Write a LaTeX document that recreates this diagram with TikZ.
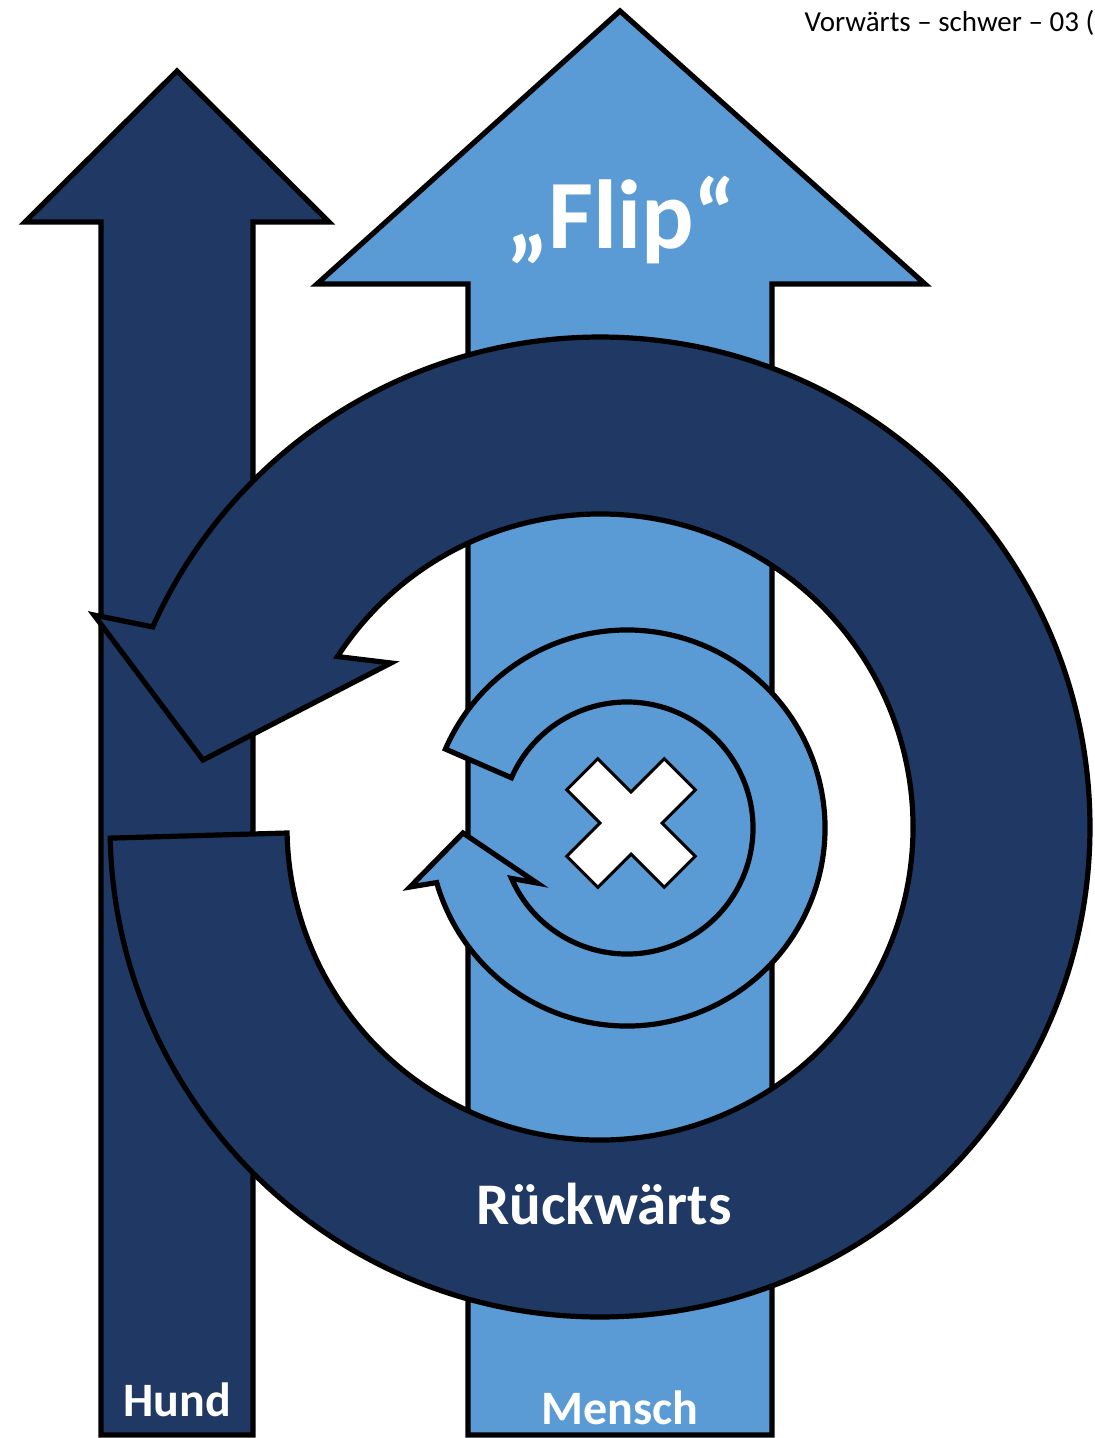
\documentclass[tikz,border=0pt]{standalone}
\usepackage{fontspec}
\setmainfont{Carlito}
\usetikzlibrary{calc}
\definecolor{hundblue}{HTML}{1F3864}
\definecolor{menschblue}{HTML}{5B9BD5}
\begin{document}
\begin{tikzpicture}[x=1pt, y=-1pt, line join=miter,
	outline/.style={draw=black, line width=5.2pt},
	whitetxt/.style={text=white, anchor=base, font=\fontsize{#1}{#1}\selectfont\bfseries}]
	\useasboundingbox (0,0) rectangle (1095,1438);
	\path
	(600,827) coordinate (O)
	(627,828) coordinate (o)
	(631,823) coordinate (X)
	;
	% Hund und Mensch
	\draw[outline, fill=hundblue] (101,1435) -- (101,222) -- (25,222) -- (177,71) -- (329,222) -- (253,222) -- (253,1435) -- cycle;
	\draw[outline, fill=menschblue] (468,1435) -- (468,284) -- (317,284) -- (620,11) -- (925,284) -- (772,284) -- (772,1435) -- cycle;
	% Rueckwaerts
	\draw[outline, fill=hundblue] ($(O)+(178.7:490)$) arc[start angle=178.7, end angle=-155.9, radius=490]
	-- (94,615) -- (203,760) -- (391,663) -- ($(O)+(-147:313)$)
	arc[start angle=-147, end angle=178.9, radius=313] -- cycle;
	% Drehung
	\draw[outline, fill=menschblue] ($(o)+(-156.5:198)$) arc[start angle=-156.5, end angle=164, radius=198]
	-- (410,887) -- (463,833) -- (537,883) -- ($(o)+(156.4:126)$)
	arc[start angle=156.4, end angle=-156.5, radius=126] -- cycle;
	\draw[draw=black, line width=3pt, fill=white, shift={(X)}, rotate=45]
	(-22,-69) -- (22,-69) -- (22,-22) -- (69,-22) -- (69,22) -- (22,22) -- (22,69)
	-- (-22,69) -- (-22,22) -- (-69,22) -- (-69,-22) -- (-22,-22) -- cycle;
	% Texte
	\node[whitetxt=98] (flip) at (621,248) {„Flip“};
	\node[whitetxt=59] (rueck) at (604,1224) {Rückwärts};
	\foreach \t/\x/\y in {Hund/177/1416, Mensch/620/1424}
	\node[whitetxt=48] (\t) at (\x,\y) {\t};
	\node[anchor=base west, font=\fontsize{29}{29}\selectfont] (titel) at (801,31) {Vorwärts – schwer – 03 (};
\end{tikzpicture}
\end{document}
